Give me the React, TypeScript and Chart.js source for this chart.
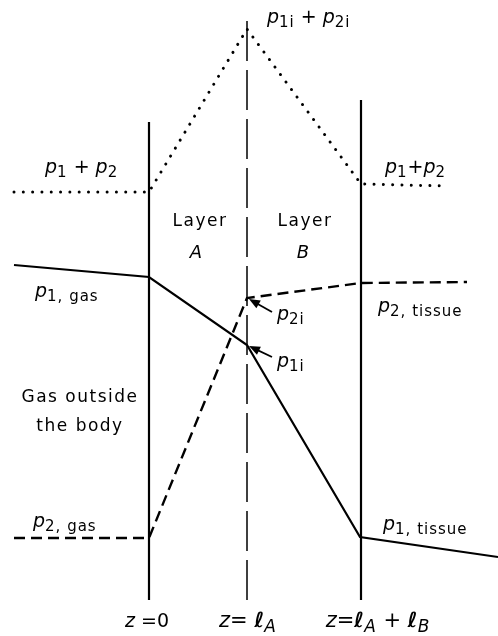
import React, { useEffect, useRef } from 'react';
import Chart from 'chart.js/auto';

// Position across the layers (z, arbitrary units; 0 = gas/layer A boundary)
const sumX = [-13.5, 0, 9.8, 21.2, 29.8];
const sumY = [44.4, 44.4, 60.7, 45.2, 45.0]; // p1 + p2 (dotted)
const p1X = [-13.5, 0, 9.8, 21.1, 34.9];
const p1Y = [37.1, 35.9, 29.1, 9.9, 7.9]; // p1 (solid)
const p2X = [-13.5, 0, 9.8, 21.2, 31.8];
const p2Y = [9.8, 9.8, 33.8, 35.3, 35.4]; // p2 (dashed)
const boundaryX = [0, 21.2];
const boundaryTop = [51.4, 53.6];
const interfaceX = [9.8];
const interfaceTop = [62.1];
const boundaryBottom = 3.6;

const FONT = '"DejaVu Sans", "Liberation Sans", sans-serif';

type Seg = { t: string; sub?: boolean; it?: boolean; b?: boolean };
type Lbl = { x: number; y: number; align: 'left' | 'center'; segs: Seg[]; size?: number; sp?: number };

const P = (s: string): Seg[] => [{ t: 'p', it: true }, { t: s, sub: true }];

const labels: Lbl[] = [
  { x: 11.8, y: 61.8, align: 'left', segs: [...P('1i'), { t: ' + ' }, ...P('2i')], size: 19 },
  { x: -10.4, y: 46.8, align: 'left', segs: [...P('1'), { t: ' + ' }, ...P('2')], size: 19 },
  { x: 23.6, y: 46.8, align: 'left', segs: [...P('1'), { t: '+' }, ...P('2')], size: 19 },
  { x: 5.1, y: 41.4, align: 'center', segs: [{ t: 'Layer' }], sp: 1.5, size: 17 },
  { x: 4.7, y: 38.3, align: 'center', segs: [{ t: 'A', it: true }], size: 18 },
  { x: 15.6, y: 41.4, align: 'center', segs: [{ t: 'Layer' }], sp: 1.5, size: 17 },
  { x: 15.4, y: 38.3, align: 'center', segs: [{ t: 'B', it: true }], size: 18 },
  { x: -11.4, y: 34.4, align: 'left', segs: P('1, gas') },
  { x: 22.9, y: 32.9, align: 'left', segs: P('2, tissue') },
  { x: 12.8, y: 32.1, align: 'left', segs: P('2i') },
  { x: 12.8, y: 27.4, align: 'left', segs: P('1i') },
  { x: -6.9, y: 23.8, align: 'center', segs: [{ t: 'Gas outside' }], sp: 1.5, size: 17 },
  { x: -6.9, y: 20.9, align: 'center', segs: [{ t: 'the body' }], sp: 1.5, size: 17 },
  { x: -11.6, y: 11.4, align: 'left', segs: P('2, gas') },
  { x: 23.4, y: 11.1, align: 'left', segs: P('1, tissue') },
  { x: -0.2, y: 1.4, align: 'center', segs: [{ t: 'z', it: true }, { t: ' =0' }], size: 19 },
  { x: 9.9, y: 1.4, align: 'center', segs: [{ t: 'z', it: true }, { t: '= ' }, { t: 'ℓ', it: true, b: true }, { t: 'A', it: true, sub: true }], size: 21 },
  { x: 22.9, y: 1.4, align: 'center', segs: [{ t: 'z', it: true }, { t: '=' }, { t: 'ℓ', it: true, b: true }, { t: 'A', it: true, sub: true }, { t: ' + ' }, { t: 'ℓ', it: true, b: true }, { t: 'B', it: true, sub: true }], size: 21 },
];

// arrows: from (x1,y1) to (x2,y2)
const arrowFromX = [12.3, 12.3];
const arrowFromY = [32.4, 27.9];
const arrowToX = [10.0, 10.0];
const arrowToY = [33.7, 29.0];

const pts = (xs: number[], ys: number[]) => xs.map((x, i) => ({ x, y: ys[i] }));

function drawRich(ctx: CanvasRenderingContext2D, l: Lbl, px: number, py: number) {
  const size = l.size ?? 19;
  const sub = Math.round(size * 0.8);
  const fontFor = (s: Seg) => `${s.it ? 'italic ' : ''}${s.b ? 'bold ' : ''}${s.sub ? sub : size}px ${FONT}`;
  const spFor = (s: Seg) => `${s.sub ? 1 : l.sp ?? 0}px`;
  let total = 0;
  const widths = l.segs.map((s) => {
    ctx.font = fontFor(s);
    (ctx as any).letterSpacing = spFor(s);
    const w = ctx.measureText(s.t).width;
    total += w;
    return w;
  });
  let cx = l.align === 'center' ? px - total / 2 : px;
  l.segs.forEach((s, i) => {
    ctx.font = fontFor(s);
    (ctx as any).letterSpacing = spFor(s);
    ctx.fillText(s.t, cx, py + (s.sub ? size * 0.25 : 0));
    cx += widths[i];
  });
  (ctx as any).letterSpacing = '0px';
}

const annotPlugin = {
  id: 'annot',
  afterDatasetsDraw(chart: any) {
    const { ctx, scales } = chart;
    const xs = scales.x;
    const ys = scales.y;
    ctx.save();
    ctx.fillStyle = '#000';
    ctx.strokeStyle = '#000';
    ctx.textBaseline = 'middle';
    ctx.textAlign = 'left';
    labels.forEach((l) => drawRich(ctx, l, xs.getPixelForValue(l.x), ys.getPixelForValue(l.y)));
    arrowFromX.forEach((_, i) => {
      const x1 = xs.getPixelForValue(arrowFromX[i]);
      const y1 = ys.getPixelForValue(arrowFromY[i]);
      const x2 = xs.getPixelForValue(arrowToX[i]);
      const y2 = ys.getPixelForValue(arrowToY[i]);
      const a = Math.atan2(y2 - y1, x2 - x1);
      ctx.lineWidth = 1.8;
      ctx.beginPath();
      ctx.moveTo(x1, y1);
      ctx.lineTo(x2 - 6 * Math.cos(a), y2 - 6 * Math.sin(a));
      ctx.stroke();
      ctx.beginPath();
      ctx.moveTo(x2, y2);
      ctx.lineTo(x2 - 11 * Math.cos(a) + 4.5 * Math.sin(a), y2 - 11 * Math.sin(a) - 4.5 * Math.cos(a));
      ctx.lineTo(x2 - 11 * Math.cos(a) - 4.5 * Math.sin(a), y2 - 11 * Math.sin(a) + 4.5 * Math.cos(a));
      ctx.closePath();
      ctx.fill();
    });
    ctx.restore();
  },
};

export default function App() {
  const ref = useRef<HTMLCanvasElement>(null);
  useEffect(() => {
    if (!ref.current) return;
    const line = (data: any[], extra: any) => ({
      type: 'scatter',
      data,
      showLine: true,
      pointRadius: 0,
      borderColor: '#000',
      backgroundColor: '#000',
      borderWidth: 2,
      tension: 0,
      ...extra,
    });
    const datasets: any[] = [
      ...boundaryX.map((x, i) =>
        line(pts([x, x], [boundaryBottom, boundaryTop[i]]), { borderWidth: 2.2 })
      ),
      ...interfaceX.map((x, i) =>
        line(pts([x, x], [boundaryBottom, interfaceTop[i]]), { borderWidth: 1.5, borderDash: [40, 9] })
      ),
      line(pts(sumX, sumY), { borderWidth: 3, borderDash: [0.01, 9.3], borderCapStyle: 'round' }),
      line(pts(p1X, p1Y), { borderWidth: 2.2 }),
      line(pts(p2X, p2Y), { borderWidth: 2.4, borderDash: [11, 6] }),
    ];
    const chart = new Chart(ref.current, {
      type: 'scatter',
      data: { datasets },
      options: {
        animation: false,
        responsive: false,
        layout: { padding: 0 },
        plugins: { legend: { display: false }, tooltip: { enabled: false } },
        scales: {
          x: { type: 'linear', min: -14.9, max: 34.9, display: false },
          y: { type: 'linear', min: 0, max: 63.6, display: false },
        },
      },
      plugins: [annotPlugin],
    } as any);
    return () => chart.destroy();
  }, []);
  return (
    <div style={{ position: 'fixed', left: 0, top: 0, width: 498, height: 636, background: '#fff' }}>
      <canvas ref={ref} width={498} height={636} style={{ display: 'block' }} />
    </div>
  );
}
